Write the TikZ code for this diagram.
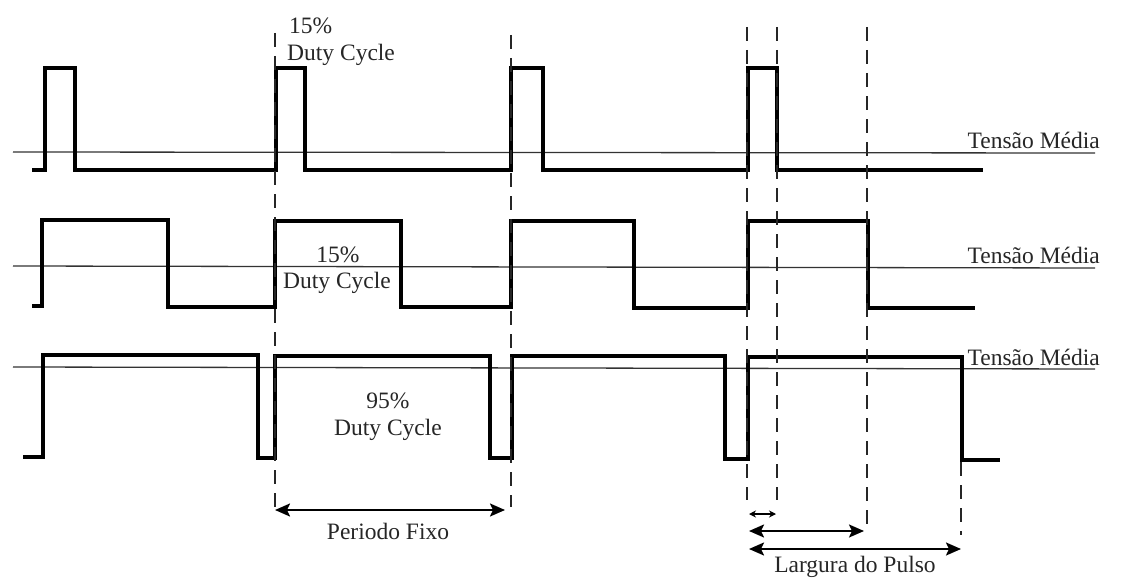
\documentclass[tikz,border=0pt]{standalone}
\usepackage{fontspec}
\setmainfont{Liberation Serif}
\usetikzlibrary{arrows.meta}
\begin{document}
\begin{tikzpicture}[x=1pt,y=-1pt,
  wave/.style={line width=3.2pt, line join=miter, black},
  mean/.style={line width=1.3pt, black!80},
  guide/.style={line width=1.7pt, black!85, dash pattern=on 14pt off 9pt},
  dimline/.style={line width=2pt, black, {Stealth[length=15pt,width=13pt,inset=3pt]}-{Stealth[length=15pt,width=13pt,inset=3pt]}},
  smalldim/.style={line width=1.5pt, black, {Stealth[length=7pt,width=7pt]}-{Stealth[length=7pt,width=7pt]}},
  lbl/.style={font=\fontsize{23.5}{27}\selectfont, text=black!85, inner sep=0pt}]
\useasboundingbox (0,0) rectangle (1127,586);

% mean-voltage lines
\draw[mean] (13,152) -- (1095,153);
\draw[mean] (13,266) -- (1095,268);
\draw[mean] (13,367) -- (1095,369);

% waveforms
\draw[wave] (32,170) -- (45,170) -- (45,68) -- (75,68) -- (75,170) -- (276,170) -- (276,68) -- (305,68) -- (305,170)
  -- (511,170) -- (511,68) -- (543,68) -- (543,170) -- (748,170) -- (748,68) -- (777,68) -- (777,170) -- (983,170);
\draw[wave] (32,306) -- (42,306) -- (42,220) -- (168,220) -- (168,307) -- (275,307) -- (275,221) -- (401,221) -- (401,307)
  -- (511,307) -- (511,221) -- (634,221) -- (634,308) -- (748,308) -- (748,221) -- (868,221) -- (868,308) -- (975,308);
\draw[wave] (23,457) -- (43,457) -- (43,355) -- (258,355) -- (258,458) -- (275,458) -- (275,356) -- (490,356) -- (490,458)
  -- (512,458) -- (512,356) -- (725,356) -- (725,459) -- (748,459) -- (748,357) -- (962,357) -- (962,460) -- (1000,460);

% dashed guides
\coordinate (g1t) at (275,33);  \coordinate (g1b) at (275,507);
\coordinate (g2t) at (511,35);  \coordinate (g2b) at (511,507);
\coordinate (g3t) at (747,27);  \coordinate (g3b) at (747,500);
\coordinate (g4t) at (777,27);  \coordinate (g4b) at (777,500);
\coordinate (g5t) at (867,27);  \coordinate (g5b) at (867,528);
\coordinate (g6t) at (961,462); \coordinate (g6b) at (961,535);
\foreach \g in {1,...,6} \draw[guide] (g\g t) -- (g\g b);

% dimension arrows
\coordinate (pA) at (275,510); \coordinate (pB) at (505,510);
\draw[dimline] (pA) -- (pB);
\coordinate (sA) at (749,514); \coordinate (sB) at (776,514);
\draw[smalldim] (sA) -- (sB);
\coordinate (mA) at (749,531); \coordinate (mB) at (864,531);
\draw[dimline] (mA) -- (mB);
\coordinate (lA) at (749,549); \coordinate (lB) at (961,549);
\draw[dimline] (lA) -- (lB);

% labels
\node[lbl, anchor=base west] (t15) at (289,34) {15\%};
\node[lbl, anchor=base west] (tdc) at (287,61) {Duty Cycle};
\node[lbl, anchor=base] (m15) at (338,262) {15\%};
\node[lbl, anchor=base] (mdc) at (337,288) {Duty Cycle};
\node[lbl, anchor=base] (b95) at (388,408) {95\%};
\node[lbl, anchor=base] (bdc) at (388,435) {Duty Cycle};
\node[lbl, anchor=base east] (tm1) at (1100,148) {Tensão Média};
\node[lbl, anchor=base east] (tm2) at (1100,263) {Tensão Média};
\node[lbl, anchor=base east] (tm3) at (1100,365) {Tensão Média};
\node[lbl, anchor=base] (pf) at (388,539) {Periodo Fixo};
\node[lbl, anchor=base] (lp) at (855,572) {Largura do Pulso};
\end{tikzpicture}
\end{document}
